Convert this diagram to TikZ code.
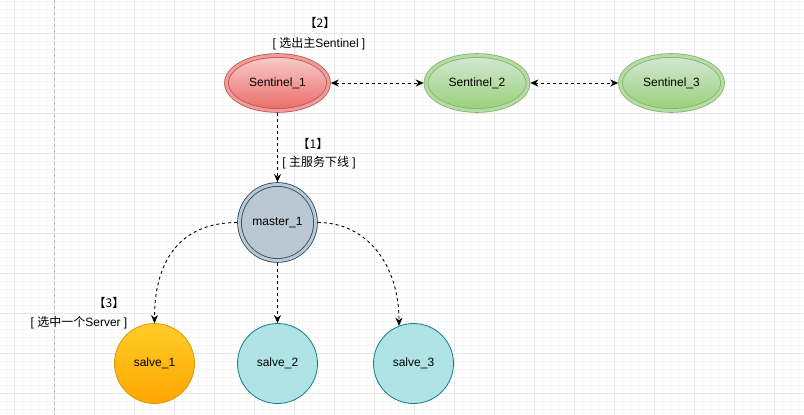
\documentclass[tikz,border=0pt]{standalone}
\usepackage{fontspec}
\setmainfont{Liberation Sans}
\newfontfamily\cjk{Noto Sans CJK SC}
\usetikzlibrary{shapes.geometric, arrows.meta}

\definecolor{redfill}{HTML}{F8CECC}
\definecolor{redgrad}{HTML}{EA6B66}
\definecolor{redmid}{HTML}{F19C99}
\definecolor{redline}{HTML}{B85450}
\definecolor{greenfill}{HTML}{D5E8D4}
\definecolor{greengrad}{HTML}{97D077}
\definecolor{greenmid}{HTML}{B6DCA5}
\definecolor{greenline}{HTML}{82B366}
\definecolor{bluefill}{HTML}{BAC8D3}
\definecolor{blueline}{HTML}{23445D}
\definecolor{orangefill}{HTML}{FFCD28}
\definecolor{orangegrad}{HTML}{FFA500}
\definecolor{orangeline}{HTML}{D79B00}
\definecolor{tealfill}{HTML}{B0E3E6}
\definecolor{tealline}{HTML}{0E8088}
\definecolor{gridminor}{HTML}{F5F5F5}
\definecolor{gridmajor}{HTML}{E6E6E6}

\begin{document}
\begin{tikzpicture}[
    x=1pt, y=-1pt,
    every node/.style={font=\fontsize{12}{14}\selectfont, text=black},
    sentinel/.style={ellipse, draw, double, double distance=3pt, line width=0.8pt, minimum width=102pt, minimum height=55pt, inner sep=0pt, outer sep=2.3pt},
    redsen/.style={sentinel, draw=redline, top color=redfill, bottom color=redgrad, double=redmid},
    greensen/.style={sentinel, draw=greenline, top color=greenfill, bottom color=greengrad, double=greenmid},
    master/.style={circle, draw=blueline, fill=bluefill, double=bluefill, double distance=3pt, line width=0.8pt, minimum size=76pt, inner sep=0pt, outer sep=2.3pt},
    slave/.style={circle, line width=0.8pt, minimum size=80pt, inner sep=0pt},
    note/.style={inner sep=1pt},
    link/.style={line width=0.9pt, dash pattern=on 3pt off 3pt, >={Stealth[length=8pt, width=7pt, inset=2.5pt]}}
]
\useasboundingbox (0,0) rectangle (804,415);
\fill[white] (0,0) rectangle (804,415);
\foreach \x in {6,14,...,806} \draw[gridminor, line width=0.6pt] (\x,0) -- (\x,415);
\foreach \y in {1,9,...,415} \draw[gridminor, line width=0.6pt] (0,\y) -- (804,\y);
\foreach \x in {14,54,...,774} \draw[gridmajor, line width=0.8pt] (\x,0) -- (\x,415);
\foreach \y in {33,73,...,393} \draw[gridmajor, line width=0.8pt] (0,\y) -- (804,\y);
\draw[gray!55, line width=0.8pt, dash pattern=on 3pt off 3pt] (54,0) -- (54,415);

\node (sen1) [redsen] at (277.5,83) {Sentinel\_1};
\node (sen2) [greensen] at (477,83) {Sentinel\_2};
\node (sen3) [greensen] at (671.5,83) {Sentinel\_3};
\node (master1) [master] at (277.5,222.5) {master\_1};
\node (salve1) [slave, draw=orangeline, top color=orangefill, bottom color=orangegrad] at (154.5,363.5) {salve\_1};
\node (salve2) [slave, draw=tealline, fill=tealfill] at (277.5,363.5) {salve\_2};
\node (salve3) [slave, draw=tealline, fill=tealfill] at (413.5,363.5) {salve\_3};

\node (step2) [note] at (320,23) {\cjk 【2】};
\node (step2text) [note] at (319,44) {[ {\cjk 选出主}Sentinel ]};
\node (step1) [note] at (313,144) {\cjk 【1】};
\node (step1text) [note] at (319,163) {[ {\cjk 主服务下线} ]};
\node (step3) [note] at (109,303) {\cjk 【3】};
\node (step3text) [note] at (79,323) {[ {\cjk 选中一个}Server ]};

\draw [link, <->] (sen1) -- (sen2);
\draw [link, <->] (sen2) -- (sen3);
\draw [link, ->] (sen1) -- (master1);
\draw [link, ->] (master1) -- (salve2);
\draw [link, ->] (master1.west) .. controls +(-55,0) and +(0,-65) .. (salve1.north);
\draw [link, ->] (master1.east) .. controls +(50,0) and +(0,-60) .. (salve3.111);

\end{tikzpicture}
\end{document}
